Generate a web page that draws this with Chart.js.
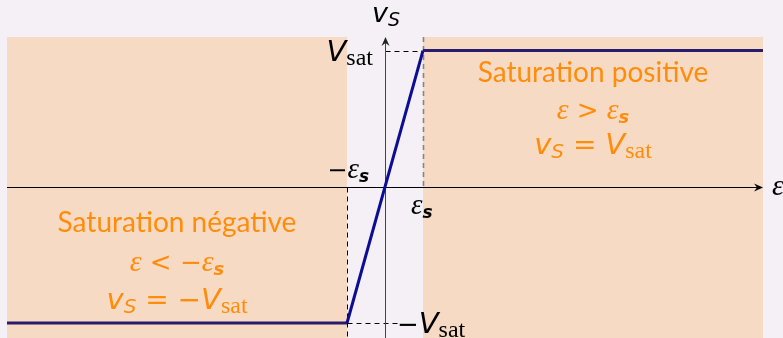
<!DOCTYPE html>
<html>
<head>
<meta charset="utf-8">
<script src="https://cdn.jsdelivr.net/npm/chart.js@4.4.1/dist/chart.umd.min.js"></script>
<style>
  html, body { margin: 0; background: #f4f0f5; }
  #wrap { width: 783px; height: 338px; }
</style>
</head>
<body>
<div id="wrap"><canvas id="myChart"></canvas></div>
<script>
// transfer characteristic vS(epsilon), eps_s = 1, Vsat = 1
const epsilon = [-9.95, -1, 1, 9.95];
const vS = [-1, -1, 1, 1];
const epsS = 1;
const vSat = 1;
const xRange = [-9.95, 9.95];
const yRange = [-1.11, 1.1];
const zones = [[-9.95, -1], [1, 9.95]];

const ORANGE = '#ff8c0a';
const serifIt = s => 'italic ' + s + 'px "Liberation Serif"';
const serif = s => s + 'px "Liberation Serif"';
const op = s => s + 'px "DejaVu Sans"';
const sansIt = s => 'italic ' + s + 'px "DejaVu Sans"';
const sans = s => s + 'px "Lato"';

// draw a run of text pieces [text, font, dy] starting at x (or centred)
function rich(ctx, parts, x, y, align) {
  let w = 0;
  parts.forEach(p => { ctx.font = p[1]; w += ctx.measureText(p[0]).width; });
  let cx = align === 'center' ? x - w / 2 : align === 'right' ? x - w : x;
  ctx.textAlign = 'left';
  ctx.textBaseline = 'alphabetic';
  parts.forEach(p => {
    ctx.font = p[1];
    ctx.fillText(p[0], cx, y + (p[2] || 0));
    cx += ctx.measureText(p[0]).width;
  });
}

function dashed(ctx, x0, y0, x1, y1, color, w) {
  ctx.save();
  ctx.strokeStyle = color;
  ctx.lineWidth = w || 1;
  ctx.setLineDash([5, 4]);
  ctx.beginPath();
  ctx.moveTo(x0, y0);
  ctx.lineTo(x1, y1);
  ctx.stroke();
  ctx.restore();
}

function arrowHead(ctx, x, y, dir) {
  ctx.beginPath();
  if (dir === 'right') {
    ctx.moveTo(x, y);
    ctx.lineTo(x - 9, y - 4);
    ctx.lineTo(x - 6, y);
    ctx.lineTo(x - 9, y + 4);
  } else {
    ctx.moveTo(x, y);
    ctx.lineTo(x - 4, y + 9);
    ctx.lineTo(x, y + 6);
    ctx.lineTo(x + 4, y + 9);
  }
  ctx.closePath();
  ctx.fill();
}

const diagram = {
  id: 'diagram',
  beforeDatasetsDraw(chart) {
    const { ctx, scales: { x, y } } = chart;
    const top = y.getPixelForValue(yRange[1]);
    const bottom = y.getPixelForValue(yRange[0]);
    const x0 = Math.round(x.getPixelForValue(0)) + 0.5;
    const y0 = Math.round(y.getPixelForValue(0)) + 0.5;
    ctx.save();
    ctx.fillStyle = '#f7dac3';
    zones.forEach(([a, b]) => {
      const xa = x.getPixelForValue(a), xb = x.getPixelForValue(b);
      ctx.fillRect(xa, top, xb - xa, bottom - top);
    });

    const xs = Math.round(x.getPixelForValue(epsS)) + 0.5;
    const xms = Math.round(x.getPixelForValue(-epsS)) + 0.5;
    const yv = Math.round(y.getPixelForValue(vSat)) + 0.5;
    const ymv = Math.round(y.getPixelForValue(-vSat)) + 0.5;
    dashed(ctx, xs, top, xs, y0, '#858585', 1.6);
    dashed(ctx, xms, y0, xms, bottom, '#000');
    dashed(ctx, x0, yv, xs, yv, '#000');
    dashed(ctx, xms, ymv, x0 + 14, ymv, '#000');

    // axes
    ctx.strokeStyle = '#000';
    ctx.fillStyle = '#000';
    ctx.lineWidth = 1;
    const xEnd = x.getPixelForValue(xRange[1]);
    ctx.beginPath();
    ctx.moveTo(x.getPixelForValue(xRange[0]), y0);
    ctx.lineTo(xEnd - 4, y0);
    ctx.stroke();
    arrowHead(ctx, xEnd, y0, 'right');
    ctx.strokeStyle = '#444';
    ctx.beginPath();
    ctx.moveTo(x0, bottom);
    ctx.lineTo(x0, top + 4);
    ctx.stroke();
    ctx.fillStyle = '#222';
    arrowHead(ctx, x0, top, 'up');
    ctx.restore();
  },
  afterDatasetsDraw(chart) {
    const { ctx, scales: { x, y } } = chart;
    const px = v => x.getPixelForValue(v);
    const py = v => y.getPixelForValue(v);
    ctx.save();
    ctx.fillStyle = '#000';
    // axis names
    rich(ctx, [['v', sansIt(27)], ['S', sansIt(19), 4]], px(0) - 13, 22, 'left');
    rich(ctx, [['ε', serifIt(30)]], 772, py(0) + 8, 'left');
    // tick-like labels
    rich(ctx, [['V', sansIt(29)], ['sat', serif(24), 4]], px(0) - 12, py(vSat) + 10, 'right');
    rich(ctx, [['−', op(24)], ['ε', serifIt(29)], ['s', 'bold ' + sansIt(17), 4]], px(0) - 16, py(0) - 9, 'right');
    rich(ctx, [['ε', serifIt(29)], ['s', 'bold ' + sansIt(17), 4]], px(epsS) - 12, py(0) + 27, 'left');
    rich(ctx, [['−', op(26)], ['V', sansIt(29)], ['sat', serif(24), 4]], px(0) + 12, py(-vSat) + 10, 'left');

    // zone captions
    ctx.fillStyle = ORANGE;
    const cPos = (zones[1][0] + zones[1][1]) / 2;
    const cNeg = (zones[0][0] + zones[0][1]) / 2;
    rich(ctx, [['Saturation positive', sans(28)]], px(cPos), py(0.77), 'center');
    rich(ctx, [['ε', serifIt(30)], [' > ', op(26)], ['ε', serifIt(30)], ['s', 'bold ' + sansIt(18), 4]], px(cPos), py(0.50), 'center');
    rich(ctx, [['v', sansIt(29)], ['S', sansIt(20), 4], [' = ', op(28)], ['V', sansIt(29)], ['sat', serif(24), 4]], px(cPos), py(0.24), 'center');
    rich(ctx, [['Saturation négative', sans(28)]], px(cNeg), py(-0.33), 'center');
    rich(ctx, [['ε', serifIt(30)], [' < −', op(26)], ['ε', serifIt(30)], ['s', 'bold ' + sansIt(18), 4]], px(cNeg), py(-0.62), 'center');
    rich(ctx, [['v', sansIt(29)], ['S', sansIt(20), 4], [' = −', op(28)], ['V', sansIt(29)], ['sat', serif(24), 4]], px(cNeg), py(-0.90), 'center');
    ctx.restore();
  }
};

const ctx = document.getElementById('myChart');
const chart = new Chart(ctx, {
  type: 'scatter',
  data: {
    datasets: [{
      data: epsilon.map((e, i) => ({ x: e, y: vS[i] })),
      showLine: true,
      borderWidth: 3,
      pointRadius: 0,
      borderColor: '#2a1c6c',
      segment: {
        borderColor: c => c.p0.parsed.y !== c.p1.parsed.y ? '#0c0c94' : '#2a1c6c'
      }
    }]
  },
  options: {
    responsive: true,
    maintainAspectRatio: false,
    animation: false,
    layout: { padding: { left: 7, right: 20, top: 37, bottom: 0 } },
    plugins: { legend: { display: false }, tooltip: { enabled: false } },
    scales: {
      x: { type: 'linear', display: false, min: xRange[0], max: xRange[1] },
      y: { type: 'linear', display: false, min: yRange[0], max: yRange[1] }
    }
  },
  plugins: [diagram]
});
</script>
</body>
</html>
